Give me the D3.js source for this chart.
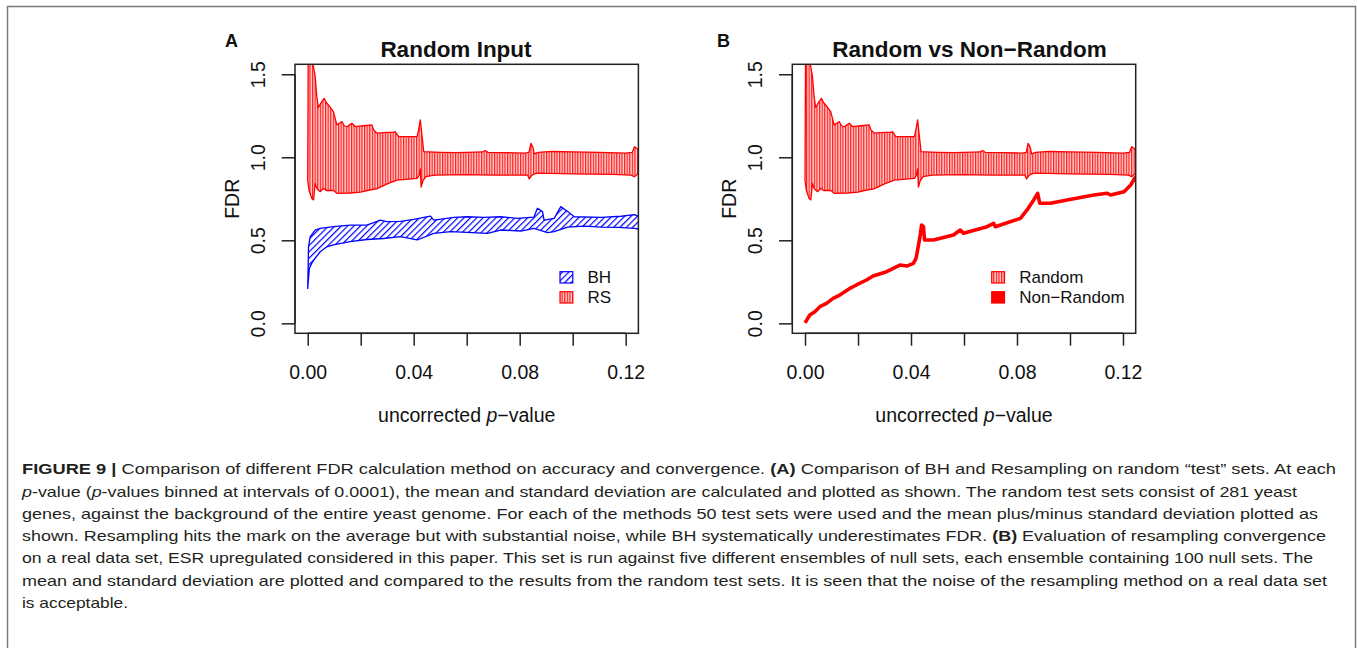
<!DOCTYPE html>
<html><head><meta charset="utf-8">
<script src="https://cdn.jsdelivr.net/npm/d3@7"></script>
<style>
html,body{margin:0;padding:0;background:#fff;}
svg{display:block;font-family:"Liberation Sans",Arial,Helvetica,sans-serif;}
</style></head>
<body>
<svg id="fig" width="1357" height="648"></svg>
<script>
// ---------- data ----------
const xTicks = [0, 0.02, 0.04, 0.06, 0.08, 0.10, 0.12];
const xTickLabels = ["0.00", "", "0.04", "", "0.08", "", "0.12"];
const yTicks = [0, 0.5, 1.0, 1.5];
const yTickLabels = ["0.0", "0.5", "1.0", "1.5"];

// Resampling (RS / Random) band: mean ± sd
const rsUpperP = [0.0002,0.0010,0.0020,0.0028,0.0034,0.0040,0.0053,0.0062,0.0070,0.0078,0.0090,0.0097,0.0110,0.0120,0.0129,0.0138,0.0148,0.0158,0.0167,0.0179,0.0210,0.0242,0.0249,0.0261,0.0300,0.0324,0.0330,0.0343,0.0380,0.0413,0.0419,0.0425,0.0432,0.0438,0.0500,0.0560,0.0600,0.0660,0.0670,0.0680,0.0750,0.0820,0.0835,0.0842,0.0850,0.0855,0.0870,0.0920,0.1000,0.1100,0.1200,0.1225,0.1233,0.1245,0.1252];
const rsUpperV = [1.65,1.62,1.56,1.49,1.37,1.30,1.335,1.355,1.33,1.315,1.29,1.275,1.195,1.205,1.215,1.19,1.184,1.195,1.205,1.185,1.19,1.195,1.165,1.145,1.15,1.15,1.155,1.124,1.125,1.125,1.17,1.225,1.12,1.034,1.03,1.028,1.03,1.032,1.04,1.03,1.028,1.025,1.03,1.084,1.06,1.02,1.03,1.035,1.032,1.03,1.025,1.03,1.064,1.05,1.03];
const rsLowerP = [0.0000,0.0005,0.0015,0.0022,0.0028,0.0035,0.0047,0.0060,0.0070,0.0097,0.0110,0.0160,0.0200,0.0224,0.0260,0.0300,0.0337,0.0380,0.0413,0.0420,0.0425,0.0428,0.0435,0.0446,0.0480,0.0600,0.0700,0.0800,0.0830,0.0836,0.0845,0.0855,0.0870,0.1000,0.1150,0.1220,0.1233,0.1245,0.1252];
const rsLowerV = [0.86,0.80,0.753,0.743,0.843,0.81,0.793,0.813,0.80,0.80,0.783,0.785,0.79,0.80,0.81,0.84,0.863,0.868,0.873,0.89,0.93,0.82,0.86,0.883,0.893,0.895,0.893,0.893,0.892,0.87,0.89,0.90,0.905,0.90,0.897,0.893,0.883,0.90,0.90];

// BH band: mean ± sd
const bhUpperP = [0.0003,0.0009,0.0028,0.0047,0.0097,0.0160,0.0223,0.0249,0.0274,0.0299,0.0350,0.0400,0.0463,0.0476,0.0552,0.0602,0.0665,0.0728,0.0791,0.0854,0.0867,0.0886,0.0892,0.0930,0.0955,0.0981,0.1006,0.1107,0.1183,0.1233,0.1252];
const bhUpperV = [0.46,0.52,0.562,0.572,0.582,0.592,0.592,0.606,0.622,0.612,0.614,0.626,0.646,0.622,0.638,0.642,0.638,0.642,0.632,0.64,0.693,0.673,0.622,0.632,0.703,0.673,0.642,0.638,0.645,0.655,0.642];
const bhLowerP = [0.0000,0.0006,0.0015,0.0028,0.0047,0.0072,0.0097,0.0160,0.0223,0.0286,0.0350,0.0413,0.0476,0.0539,0.0602,0.0678,0.0728,0.0804,0.0854,0.0905,0.0930,0.0981,0.1044,0.1107,0.1170,0.1233,0.1252];
const bhLowerV = [0.21,0.331,0.361,0.392,0.431,0.461,0.472,0.492,0.505,0.511,0.522,0.502,0.542,0.552,0.548,0.542,0.562,0.556,0.572,0.546,0.552,0.580,0.586,0.580,0.578,0.572,0.565];

// Non-Random (ESR upregulated) mean FDR
const nrP = [0.0000,0.0018,0.0037,0.0056,0.0081,0.0106,0.0131,0.0169,0.0194,0.0232,0.0257,0.0308,0.0333,0.0358,0.0384,0.0409,0.0419,0.0434,0.0440,0.0447,0.0451,0.0485,0.0560,0.0586,0.0598,0.0687,0.0712,0.0718,0.0813,0.0838,0.0863,0.0878,0.0886,0.0926,0.0989,0.1090,0.1141,0.1153,0.1204,0.1229,0.1248];
const nrV = [0.003,0.050,0.070,0.100,0.120,0.150,0.170,0.210,0.231,0.261,0.285,0.311,0.331,0.351,0.345,0.361,0.391,0.522,0.592,0.582,0.502,0.502,0.532,0.562,0.542,0.582,0.602,0.582,0.632,0.683,0.743,0.783,0.723,0.723,0.743,0.773,0.783,0.773,0.793,0.833,0.883];

const captionLines = [
  [["b","FIGURE 9 | "],["n","Comparison of different FDR calculation method on accuracy and convergence. "],["b","(A)"],["n"," Comparison of BH and Resampling on random \u201ctest\u201d sets. At each"]],
  [["i","p"],["n","-value ("],["i","p"],["n","-values binned at intervals of 0.0001), the mean and standard deviation are calculated and plotted as shown. The random test sets consist of 281 yeast"]],
  [["n","genes, against the background of the entire yeast genome. For each of the methods 50 test sets were used and the mean plus/minus standard deviation plotted as"]],
  [["n","shown. Resampling hits the mark on the average but with substantial noise, while BH systematically underestimates FDR. "],["b","(B)"],["n"," Evaluation of resampling convergence"]],
  [["n","on a real data set, ESR upregulated considered in this paper. This set is run against five different ensembles of null sets, each ensemble containing 100 null sets. The"]],
  [["n","mean and standard deviation are plotted and compared to the results from the random test sets. It is seen that the noise of the resampling method on a real data set"]],
  [["n","is acceptable."]]
];
const captionEnds = [1336, 1297, 1318, 1326, 1313, 1327, 128];

// ---------- drawing ----------
const svg = d3.select("#fig");
const defs = svg.append("defs");

// hatch patterns (R polygon density shading)
const pv = defs.append("pattern").attr("id","hatchV").attr("patternUnits","userSpaceOnUse")
  .attr("width",2.6).attr("height",10);
pv.append("rect").attr("x",0).attr("y",0).attr("width",2.6).attr("height",10).attr("fill","#ffd0d0");
pv.append("rect").attr("x",0).attr("y",0).attr("width",1.2).attr("height",10).attr("fill","#ff1a1a");
const pd = defs.append("pattern").attr("id","hatchD").attr("patternUnits","userSpaceOnUse")
  .attr("width",4.5).attr("height",5).attr("patternTransform","rotate(45)");
pd.append("rect").attr("x",0).attr("y",0).attr("width",1.2).attr("height",5).attr("fill","#0000ff");

// outer frame
svg.append("rect").attr("x",7.5).attr("y",6.5).attr("width",1348).attr("height",700)
  .attr("fill","none").attr("stroke","#7a7a7a").attr("stroke-width",1.5);

function band(g, x, y, upP, upV, loP, loV, fill, stroke) {
  const pts = upP.map((p,i)=>[x(p), y(upV[i])]);
  const low = loP.map((p,i)=>[x(p), y(loV[i])]).reverse();
  const line = d3.line();
  g.append("path").attr("d", line(pts.concat(low)) + "Z")
    .attr("fill", fill).attr("stroke", stroke).attr("stroke-width",1.3).attr("stroke-linejoin","round");
}

function panel(cfg) {
  const L = cfg.left, R = cfg.left + 343.4, T = 64.3, B = 333.3;
  const x = d3.scaleLinear().domain([-0.0048, 0.1248]).range([L, R]);
  const y = d3.scaleLinear().domain([-0.06, 1.56]).range([B, T]);
  const g = svg.append("g");
  const cid = "clip" + cfg.id;
  defs.append("clipPath").attr("id", cid).append("rect")
    .attr("x", L).attr("y", T).attr("width", R-L).attr("height", B-T);
  const pg = g.append("g").attr("clip-path", `url(#${cid})`);
  cfg.draw(pg, x, y);

  // box
  g.append("rect").attr("x",L).attr("y",T).attr("width",R-L).attr("height",B-T)
    .attr("fill","none").attr("stroke","#222").attr("stroke-width",1.5);

  // x axis
  const xa = g.append("g").attr("transform",`translate(0,${B})`)
    .call(d3.axisBottom(x).tickValues(xTicks).tickSize(12.4).tickSizeOuter(0)
      .tickFormat((d,i)=>xTickLabels[i]));
  xa.select(".domain").attr("d", `M${x(xTicks[0])},0H${x(xTicks[xTicks.length-1])}`)
    .attr("stroke","#222").attr("stroke-width",1.5);
  xa.selectAll(".tick line").attr("stroke","#222").attr("stroke-width",1.5);
  xa.selectAll(".tick text").attr("font-size","19.5px").attr("fill","#111")
    .attr("y", 45.7).attr("dy", null).attr("font-family","Liberation Sans, Arial, sans-serif");

  // y axis
  const ya = g.append("g").attr("transform",`translate(${L},0)`)
    .call(d3.axisLeft(y).tickValues(yTicks).tickSize(13.3).tickSizeOuter(0)
      .tickFormat((d,i)=>yTickLabels[i]));
  ya.select(".domain").attr("stroke","#222").attr("stroke-width",1.5)
    .attr("d", `M0,${y(yTicks[0])}V${y(yTicks[yTicks.length-1])}`);
  ya.selectAll(".tick line").attr("stroke","#222").attr("stroke-width",1.5);
  ya.selectAll(".tick text").attr("font-size","19.5px").attr("fill","#111")
    .attr("x", null).attr("dy", null).attr("text-anchor","middle")
    .attr("transform","translate(-30,0) rotate(-90)")
    .attr("font-family","Liberation Sans, Arial, sans-serif");

  // axis titles
  const xt = g.append("text").attr("x",(L+R)/2).attr("y",422).attr("text-anchor","middle")
    .attr("font-size","19.5px").attr("fill","#111");
  xt.append("tspan").text("uncorrected ");
  xt.append("tspan").attr("font-style","italic").text("p");
  xt.append("tspan").text("\u2212value");
  g.append("text").attr("transform",`translate(${L-56},${(T+B)/2}) rotate(-90)`)
    .attr("text-anchor","middle").attr("font-size","19.5px").attr("fill","#111").text("FDR");

  // title and panel letter
  g.append("text").attr("x",cfg.titleX).attr("y",57.3).attr("text-anchor","middle")
    .attr("font-size","22.5px").attr("font-weight","bold").attr("fill","#111").text(cfg.title);
  g.append("text").attr("x",cfg.letterX).attr("y",46.5).attr("font-size","18px")
    .attr("font-weight","bold").attr("fill","#111").text(cfg.letter);

  // legend
  cfg.legend.forEach((it,i)=>{
    const yy = 271.7 + i*20;
    g.append("rect").attr("x",cfg.legX).attr("y",yy).attr("width",12.8).attr("height",11.3)
      .attr("fill",it.fill).attr("stroke",it.stroke).attr("stroke-width",1.2);
    g.append("text").attr("x",cfg.legX+27.5).attr("y",yy+5.7).attr("dominant-baseline","central")
      .attr("font-size","17px").attr("fill","#111").text(it.label);
  });
}

panel({id:"A", left:295, title:"Random Input", titleX:456, letter:"A", letterX:225, legX:560,
  draw:(g,x,y)=>{
    band(g,x,y,rsUpperP,rsUpperV,rsLowerP,rsLowerV,"url(#hatchV)","#ff0000");
    band(g,x,y,bhUpperP,bhUpperV,bhLowerP,bhLowerV,"url(#hatchD)","#0000ff");
  },
  legend:[{label:"BH",fill:"url(#hatchD)",stroke:"#0000ff"},{label:"RS",fill:"url(#hatchV)",stroke:"#ff0000"}]
});

panel({id:"B", left:792.3, title:"Random vs Non\u2212Random", titleX:969.5, letter:"B", letterX:717, legX:991.7,
  draw:(g,x,y)=>{
    band(g,x,y,rsUpperP,rsUpperV,rsLowerP,rsLowerV,"url(#hatchV)","#ff0000");
    g.append("path").attr("d", d3.line()(nrP.map((p,i)=>[x(p), y(nrV[i])])))
      .attr("fill","none").attr("stroke","#ff0000").attr("stroke-width",3.6).attr("stroke-linejoin","round");
  },
  legend:[{label:"Random",fill:"url(#hatchV)",stroke:"#ff0000"},{label:"Non\u2212Random",fill:"#ff0000",stroke:"#ff0000"}]
});

// caption
const capY = [474, 497, 519, 541, 563, 586, 608];
captionLines.forEach((segs,i)=>{
  const t = svg.append("text").attr("x",22).attr("y",capY[i]).attr("font-size","15px").attr("fill","#231f20")
    .attr("textLength", captionEnds[i]-22).attr("lengthAdjust","spacingAndGlyphs");
  segs.forEach(s=>{
    const ts = t.append("tspan").text(s[1]);
    if (s[0]==="b") ts.attr("font-weight","bold");
    if (s[0]==="i") ts.attr("font-style","italic");
  });
});
</script>
</body></html>
